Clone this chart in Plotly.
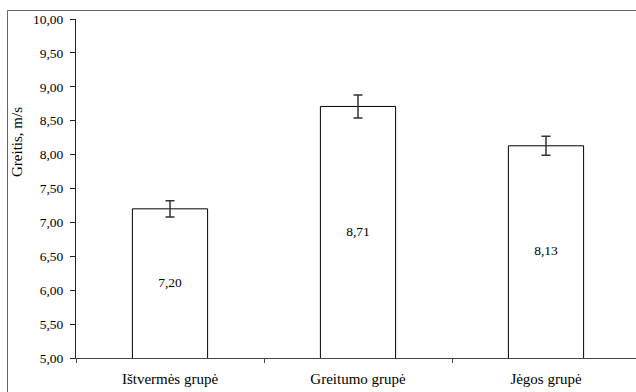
import plotly.graph_objects as go

categories = ["Ištvermės grupė", "Greitumo grupė", "Jėgos grupė"]
values = [7.20, 8.71, 8.13]
errors = [0.12, 0.17, 0.14]
y_min, y_max = 5.0, 10.0
y_title = "Greitis, m/s"

labels = [f"{v:.2f}".replace(".", ",") for v in values]
label_y = [(y_min + v) / 2 for v in values]

W, H = 636, 392
L, R, T, B = 76, 0, 19, 34
pw, ph = W - L - R, H - T - B

def px_x(p):
    return (p - L) / pw

def px_y(p):
    return (H - B - p) / ph

font = "Liberation Serif"

fig = go.Figure()
fig.add_trace(go.Bar(
    x=categories, y=values, width=0.4,
    marker=dict(color="white", line=dict(color="black", width=1)),
    error_y=dict(type="data", array=errors, visible=True,
                 color="#333333", thickness=1.5, width=4.5),
    showlegend=False, hoverinfo="skip",
))
fig.add_trace(go.Scatter(
    x=categories, y=label_y, mode="text", text=labels,
    textfont=dict(family=font, size=13.5, color="black"),
    showlegend=False, hoverinfo="skip",
))

cat_w = 188.0
fig.update_layout(
    width=W, height=H,
    margin=dict(l=L, r=R, t=T, b=B, pad=0),
    paper_bgcolor="white", plot_bgcolor="white",
    separators=",.",
    font=dict(family=font, size=13, color="black"),
    xaxis=dict(
        type="category",
        range=[-0.5, -0.5 + pw / cat_w],
        showline=True, linecolor="#444444", linewidth=1,
        ticks="outside", ticklen=4, tickcolor="#444444",
        tickson="boundaries", showgrid=False, zeroline=False,
        tickfont=dict(family=font, size=15, color="black"),
        ticklabelstandoff=7,
    ),
    yaxis=dict(
        range=[y_min, y_max], dtick=0.5, tick0=y_min,
        tickformat=".2f",
        showline=True, linecolor="#222222", linewidth=1,
        ticks="outside", ticklen=5, tickcolor="#222222",
        showgrid=False, zeroline=False,
        tickfont=dict(family=font, size=13.5, color="black"),
        ticklabelstandoff=4,
    ),
    shapes=[
        dict(type="line", xref="paper", yref="paper",
             x0=px_x(7.5), x1=1.01, y0=px_y(10.5), y1=px_y(10.5),
             line=dict(color="#666666", width=1)),
        dict(type="line", xref="paper", yref="paper",
             x0=px_x(7.5), x1=px_x(7.5), y0=px_y(10.5), y1=px_y(395),
             line=dict(color="#666666", width=1)),
    ],
    annotations=[
        dict(text=y_title, xref="paper", yref="paper",
             x=px_x(17), y=px_y(142), textangle=-90, showarrow=False,
             xanchor="center", yanchor="middle",
             font=dict(family=font, size=15, color="black")),
    ],
)

fig.write_html("out.html")
